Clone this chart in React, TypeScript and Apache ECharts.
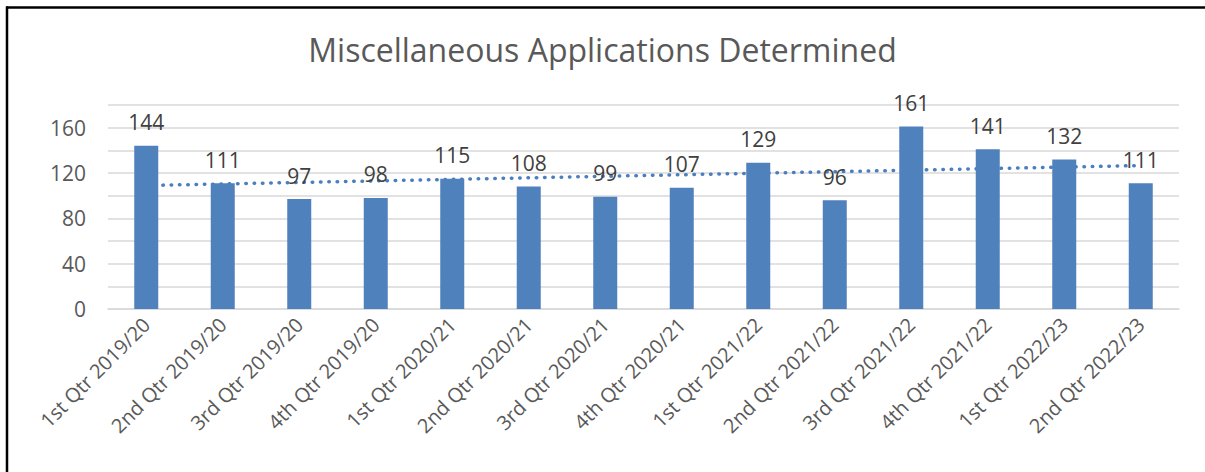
import React, { useEffect, useRef } from "react";
import * as echarts from "echarts";

const categories = [
  "1st Qtr 2019/20",
  "2nd Qtr 2019/20",
  "3rd Qtr 2019/20",
  "4th Qtr 2019/20",
  "1st Qtr 2020/21",
  "2nd Qtr 2020/21",
  "3rd Qtr 2020/21",
  "4th Qtr 2020/21",
  "1st Qtr 2021/22",
  "2nd Qtr 2021/22",
  "3rd Qtr 2021/22",
  "4th Qtr 2021/22",
  "1st Qtr 2022/23",
  "2nd Qtr 2022/23",
];
const values = [144, 111, 97, 98, 115, 108, 99, 107, 129, 96, 161, 141, 132, 111];
const titleText = "Miscellaneous Applications Determined";

// Linear trendline (least squares), as in the spreadsheet's trendline
function linearTrend(ys: number[]): number[] {
  const n = ys.length;
  const mx = (n - 1) / 2;
  const my = ys.reduce((a, b) => a + b, 0) / n;
  let num = 0;
  let den = 0;
  ys.forEach((y, i) => {
    num += (i - mx) * (y - my);
    den += (i - mx) * (i - mx);
  });
  const slope = num / den;
  return ys.map((_, i) => my + slope * (i - mx));
}

const FONT = "'Open Sans', 'Noto Sans', sans-serif";

export default function App() {
  const ref = useRef<HTMLDivElement>(null);
  useEffect(() => {
    document.body.style.margin = "0";
    if (!ref.current) return;
    const chart = echarts.init(ref.current, undefined, { renderer: "svg" });
    chart.setOption({
      animation: false,
      backgroundColor: "#ffffff",
      title: {
        text: titleText,
        left: "center",
        top: 28,
        textStyle: { fontFamily: FONT, fontSize: 32, fontWeight: "normal", color: "#595959" },
      },
      graphic: [
        {
          type: "line",
          shape: { x1: 6, y1: 7.5, x2: 1205, y2: 7.5 },
          style: { stroke: "#000000", lineWidth: 2.5 },
          silent: true,
          z: 100,
        },
        {
          type: "line",
          shape: { x1: 7, y1: 6.5, x2: 7, y2: 472 },
          style: { stroke: "#000000", lineWidth: 2.5 },
          silent: true,
          z: 100,
        },
      ],
      grid: { left: 108, right: 26, top: 105, bottom: 163 },
      xAxis: {
        type: "category",
        data: categories,
        axisLine: { lineStyle: { color: "#d9d9d9", width: 1.5 } },
        axisTick: { show: false },
        axisLabel: {
          interval: 0,
          rotate: 45,
          margin: 12,
          fontFamily: FONT,
          fontSize: 20,
          color: "#595959",
        },
      },
      yAxis: {
        type: "value",
        min: 0,
        max: 180,
        interval: 20,
        axisLine: { show: false },
        axisTick: { show: false },
        splitLine: { lineStyle: { color: "#d9d9d9", width: 1.5 } },
        axisLabel: {
          margin: 22,
          fontFamily: FONT,
          fontSize: 21,
          color: "#595959",
          formatter: (v: number) => (v % 40 === 0 && v <= 160 ? String(v) : ""),
        },
      },
      series: [
        {
          type: "line",
          data: linearTrend(values),
          symbol: "none",
          z: 1,
          lineStyle: { color: "#4a7ebf", width: 3.5, type: [0.5, 7.8], cap: "round" },
        },
        {
          type: "bar",
          data: values,
          barWidth: 24,
          z: 3,
          itemStyle: { color: "#4f81bd" },
          label: {
            show: true,
            position: "top",
            distance: 13,
            fontFamily: FONT,
            fontSize: 21,
            color: "#404040",
          },
        },
      ],
    });
    return () => chart.dispose();
  }, []);
  return <div ref={ref} style={{ width: 1205, height: 472 }} />;
}
